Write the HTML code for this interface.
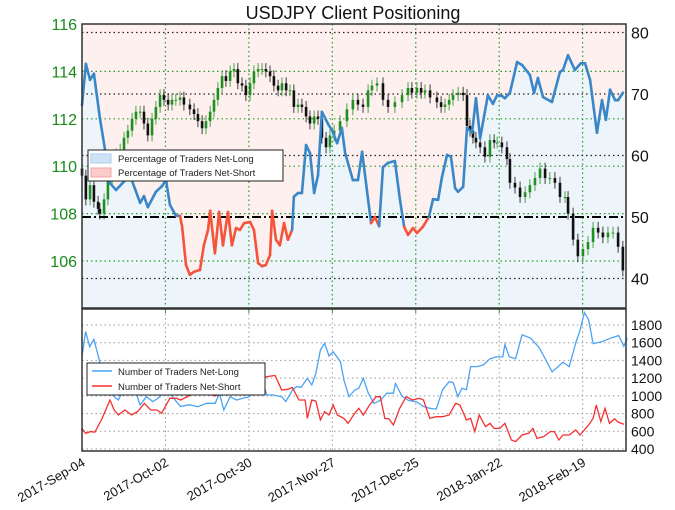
<!DOCTYPE html>
<html><head><meta charset="utf-8"><style>
body{margin:0;background:#fff;}
svg{display:block;font-family:"Liberation Sans","DejaVu Sans",sans-serif;}
</style></head><body>
<svg id="chart" width="675" height="510" viewBox="0 0 675 510">
<text x="353" y="19" font-size="18" text-anchor="middle" fill="#111">USDJPY Client Positioning</text>
<g id="topPanel"></g>
<g id="bottomPanel"></g>
</svg>
<script>
// ---- data ----
const dateLabels = ["2017-Sep-04","2017-Oct-02","2017-Oct-30","2017-Nov-27","2017-Dec-25","2018-Jan-22","2018-Feb-19"];
const dateTickDays = [0,28,56,84,112,140,168];
const priceTicks = [106,108,110,112,114,116];
const pctTicks = [40,50,60,70,80];
const countTicks = [400,600,800,1000,1200,1400,1600,1800];
const pctLong = [[0,68.2],[1.3,74.9],[2.7,72.3],[4,73.3],[6,66.1],[8,60.1],[9.4,55.5],[11.4,54.4],[13.4,55.4],[16.1,56.8],[19.5,52.3],[20.8,53.4],[22.1,51.6],[24.8,54.1],[26.8,55],[28.2,56],[29.5,52],[31.5,50.2],[32.9,50.2],[33.6,48.4],[34.9,42.2],[36.2,40.6],[37.6,41.1],[39.6,41.4],[40.9,45.4],[42.3,47.9],[43,51],[44.6,44.1],[46,50.8],[47.3,45.4],[49,50.8],[50.3,45.4],[51.7,48.2],[53,47.9],[54.4,49],[56.4,49.2],[57.7,47.9],[59.1,42.5],[60.4,42],[61.7,42.2],[63.1,43.8],[63.8,51],[65.1,46.3],[66.4,45.4],[67.8,49],[69.1,46.3],[70.5,47.9],[71.1,53.3],[72.5,53.9],[73.8,53.9],[75.2,61.7],[76.5,60.4],[77.9,53.9],[79.2,56.8],[80.5,67.1],[82.6,65.1],[83.9,64.1],[85.6,62],[87.2,64.5],[88.3,60.4],[90.9,56],[92.6,56],[94,60.6],[95.6,54.4],[97,49],[98.3,50],[99.7,48.5],[101,58.1],[102.7,58.8],[105,59.1],[106.7,52.8],[108.1,48.4],[109.4,47.1],[111.1,48.2],[112.4,47.4],[114.4,48.4],[116.4,50],[117.8,52.9],[119.5,52.8],[120.8,56.5],[122.5,60.1],[123.8,59.8],[125.2,54.7],[126.2,54.1],[127.9,54.9],[129.2,64.5],[130.9,63.7],[132.2,69.3],[133.6,62.8],[136.2,69.8],[137.9,68.4],[139.3,69.8],[140.9,69.7],[141.9,69.3],[143.6,70.2],[146,75.2],[147.7,74.7],[150.3,73.1],[151.7,70.2],[153,72.6],[154.7,69.5],[157.7,68.7],[160.4,73.6],[161.4,73.9],[163.1,76.3],[165.4,73.9],[167.4,75],[168.8,75],[170.5,72.3],[172.8,63.7],[174.5,69],[175.8,65.8],[177.2,70.7],[178.9,69],[179.9,69],[181.5,70.2]];
const priceClose = [[0,109.6],[1.3,108.6],[2.7,109.2],[4,108.5],[5.4,108.2],[6,108],[7.4,108.6],[8.7,109.4],[10.1,110],[11.4,110.5],[12.8,110.7],[14.1,111.2],[15.4,111.5],[16.8,112],[18.1,112.3],[19.5,112.3],[20.8,111.8],[22.1,111.3],[23.5,112],[24.8,112.5],[26.2,113],[27.5,112.8],[28.9,112.6],[30.2,112.8],[31.5,112.8],[32.9,112.9],[34.2,112.6],[36.2,112.4],[37.6,112.2],[38.9,111.9],[40.3,111.6],[41.6,111.9],[43,112.3],[44.3,112.8],[45.6,113.3],[47,113.8],[48.3,113.6],[49.7,114],[51,114.1],[52.3,113.5],[53.7,113.4],[55,113],[56.4,113.5],[57.7,114],[59.1,114.1],[60.4,114.1],[61.7,114],[63.1,113.8],[64.4,113.4],[65.8,113.2],[67.1,113.5],[68.5,113.2],[69.8,113.2],[71.1,112.5],[72.5,112.6],[73.8,112.5],[75.2,112.1],[76.5,111.8],[77.9,112.1],[79.2,112],[80.5,111.2],[81.9,110.8],[83.2,111.3],[84.6,111.5],[86.6,111.9],[88.9,112.4],[90.9,112.8],[92.6,112.6],[94.3,112.5],[96,113.2],[97.3,113.4],[99,113.5],[101,112.8],[102.7,112.5],[105,112.7],[107.4,113],[109.4,113.3],[110.7,113.1],[112.4,113.3],[113.8,113.1],[115.1,113.2],[116.8,112.9],[119.1,112.7],[120.5,112.5],[121.8,112.6],[123.2,112.8],[124.5,113],[126.2,113.1],[127.9,113],[129.2,111.7],[130.2,111.5],[131.2,111.2],[132.2,111],[133.6,110.8],[135.2,110.4],[136.9,111.1],[138.3,111],[139.3,111],[140.9,110.8],[142.6,110.3],[143.6,109.3],[145.3,109.1],[147,108.7],[148.7,108.9],[150.3,109.2],[152,109.5],[153.7,109.9],[155.4,109.5],[157,109.5],[158.7,109.3],[160.4,108.7],[162.1,108.7],[163.1,108],[164.8,106.9],[166.4,106.2],[168.1,106.5],[169.8,106.8],[171.5,107.4],[173.2,107.2],[174.8,107],[176.5,107.2],[178.2,107.2],[179.9,106.6],[181.5,105.6]];
const countLong = [[0,1442],[1.2,1725],[2.6,1555],[4,1638],[5.5,1442],[7.2,1217],[9.4,1050],[10.8,991],[12.2,953],[14.4,1104],[17.3,1123],[19.5,897],[21.6,991],[23.8,935],[26.2,991],[28.1,1100],[30.3,991],[33.1,880],[36,900],[38.9,878],[41.8,916],[44.7,916],[46.1,1028],[47.6,840],[49.7,991],[51.9,953],[54,972],[56.2,991],[58.4,1104],[60.5,1179],[62,1010],[64.1,1010],[67,991],[68.4,935],[70.6,1066],[72,1104],[73.5,1096],[75.6,1198],[77.1,1123],[78.5,1254],[80,1518],[81.4,1593],[82.9,1450],[84.3,1499],[86.7,1386],[87.9,1179],[89.6,991],[91.5,1066],[92.9,1085],[94.4,1198],[96.1,1028],[98,915],[100.1,950],[102.3,1030],[104.5,1030],[105.2,1140],[107.3,1000],[109.5,950],[112.4,930],[114.6,880],[116.7,860],[118.9,850],[121,1070],[123.2,1160],[124.6,1150],[126.1,990],[127.5,1085],[129,1070],[130.4,1330],[132.6,1330],[134.7,1350],[136.9,1420],[139,1440],[141.2,1440],[141.9,1580],[143.4,1440],[145.5,1420],[147.7,1690],[150.6,1650],[153.5,1540],[157.8,1270],[161.4,1380],[163.5,1330],[165.7,1600],[167.1,1740],[168.6,1940],[170,1860],[171.5,1590],[174.4,1610],[177.2,1650],[180.1,1680],[181.8,1560],[183,1650]];
const countShort = [[0,633],[1.2,577],[2.9,596],[4.3,590],[6.5,728],[9.4,953],[10.8,840],[12.2,784],[14.4,840],[16.6,784],[18.7,822],[20.9,916],[23.1,840],[25.2,840],[26.7,803],[29.5,972],[31.7,972],[33.1,953],[38.9,1050],[44.7,1000],[50.4,1080],[56.2,1120],[59.1,1180],[62,1217],[64.8,1230],[67,1066],[69.2,1075],[70.6,1096],[72.8,953],[74.9,953],[75.6,746],[77.1,953],[78.5,940],[80,728],[81.4,822],[82.9,784],[84.3,897],[85.7,784],[87.9,746],[89.3,690],[91.5,803],[92.9,860],[94.4,784],[96.5,897],[98.7,991],[100.1,991],[101.6,746],[103,740],[104.5,671],[106.6,860],[108.8,991],[110.9,953],[113.1,972],[114.6,953],[116.7,746],[118.9,765],[121,765],[123.2,784],[125.4,916],[126.8,897],[129,728],[130.4,746],[131.8,596],[133.3,784],[135.4,652],[136.9,690],[138.3,633],[140.2,633],[141.9,690],[144.1,502],[145.5,483],[147.7,558],[149.9,577],[151.3,633],[152.7,520],[154.9,540],[157.1,596],[158.5,596],[160,502],[161.4,558],[163.5,558],[165.7,615],[167.1,558],[170,671],[171.5,746],[172.6,897],[174.1,709],[175.5,860],[177,690],[178.7,740],[180.1,700],[181.8,680]];

// ---- axes ----
const X0=82, X1=626, T0=24, T1=308, B0=309, B1=451;
const xs = d => X0 + d*2.98;
const yPrice = p => 24 + (116-p)*23.7;
const yPct = p => 217 - (p-50)*6.15;
const yCnt = v => 325 + (1800-v)*124/1400;
const NS="http://www.w3.org/2000/svg";
function mk(parent, tag, attrs){const e=document.createElementNS(NS,tag);for(const k in attrs)e.setAttribute(k,attrs[k]);parent.appendChild(e);return e;}
const topG=document.getElementById('topPanel'), botG=document.getElementById('bottomPanel');

let bg=mk(topG,'rect',{x:X0,y:T0,width:X1-X0,height:T1-T0,fill:'#fdf0ee'});


const lastP=pctLong[pctLong.length-1];
let area='M'+xs(pctLong[0][0])+','+T1;
pctLong.forEach(p=>area+=' L'+xs(p[0]).toFixed(1)+','+yPct(p[1]).toFixed(1));
area+=' L'+X1+','+yPct(lastP[1])+' L'+X1+','+T1+' Z';
let ar=mk(topG,'path',{d:area,fill:'#edf4fa'});



dateTickDays.forEach(d=>{let l=mk(topG,'line',{x1:xs(d),x2:xs(d),y1:T0,y2:T1,stroke:'#2a9a2a','stroke-dasharray':'1.5,3','stroke-width':1.2});

});
priceTicks.forEach(p=>{if(p<116){let l=mk(topG,'line',{x1:X0,x2:X1,y1:yPrice(p),y2:yPrice(p),stroke:'#2a9a2a','stroke-dasharray':'1.5,3','stroke-width':1.2});

}
let t=mk(topG,'text',{x:77,y:yPrice(p)+6,'font-size':16,'text-anchor':'end',fill:'#1a8a1a'});t.textContent=p;

});
pctTicks.forEach(p=>{if(p!==50){let l=mk(topG,'line',{x1:X0,x2:X1,y1:yPct(p),y2:yPct(p),stroke:'#222','stroke-dasharray':'1.5,3','stroke-width':1.2});

}
let t=mk(topG,'text',{x:631,y:yPct(p)+6,'font-size':16,fill:'#111'});t.textContent=p;

});

priceClose.forEach((c,i)=>{const o=i>0?priceClose[i-1][1]:c[1]+0.3;const up=c[1]>=o;const col=up?'#1f8f1f':'#111';
const x=xs(c[0]);const hi=Math.max(o,c[1])+0.25, lo=Math.min(o,c[1])-0.25;
let w=mk(topG,'line',{x1:x,x2:x,y1:yPrice(hi),y2:yPrice(lo),stroke:col,'stroke-width':0.8});


let b=mk(topG,'rect',{x:x-1.3,y:yPrice(Math.max(o,c[1])),width:2.6,height:Math.max(1,Math.abs(yPrice(o)-yPrice(c[1]))),fill:col});

});

let fl=mk(topG,'line',{x1:X0,x2:X1,y1:yPct(50),y2:yPct(50),stroke:'#000','stroke-width':2,'stroke-dasharray':'9,3,2,3'});



for(let i=1;i<pctLong.length;i++){const a=pctLong[i-1],b=pctLong[i];const red=(a[1]+b[1])/2<49.8;
let s=mk(topG,'line',{x1:xs(a[0]),y1:yPct(a[1]),x2:xs(b[0]),y2:yPct(b[1]),stroke:red?'#f5533a':'#3a87c8','stroke-width':2.6,'stroke-linecap':'round'});

}

let f1=mk(topG,'rect',{x:X0,y:T0,width:X1-X0,height:T1-T0,fill:'none',stroke:'#333','stroke-width':1.5});



let lg=mk(topG,'g',{});


mk(lg,'rect',{x:88,y:150,width:195,height:31,fill:'#fff',stroke:'#222','stroke-width':1});
mk(lg,'rect',{x:91,y:154,width:20,height:9,fill:'#cfe3f7',stroke:'#a9cdee'});
mk(lg,'rect',{x:91,y:168,width:20,height:9,fill:'#fbcaca',stroke:'#f3a5a5'});
let lt1=mk(lg,'text',{x:118,y:162,'font-size':9.5,fill:'#222'});lt1.textContent='Percentage of Traders Net-Long';


let lt2=mk(lg,'text',{x:118,y:176,'font-size':9.5,fill:'#222'});lt2.textContent='Percentage of Traders Net-Short';



dateTickDays.forEach((d,i)=>{let l=mk(botG,'line',{x1:xs(d),x2:xs(d),y1:B0,y2:B1,stroke:'#999','stroke-dasharray':'1.5,3','stroke-width':1});


let tk=mk(botG,'line',{x1:xs(d),x2:xs(d),y1:B0,y2:B0+4,stroke:'#2a9a2a','stroke-width':1});


let t=mk(botG,'text',{x:xs(d)+4,y:465,'font-size':13,'text-anchor':'end',fill:'#111',transform:`rotate(-30 ${xs(d)+4} 465)`});t.textContent=dateLabels[i];

});
countTicks.forEach(v=>{let l=mk(botG,'line',{x1:X0,x2:X1,y1:yCnt(v),y2:yCnt(v),stroke:'#999','stroke-dasharray':'1.5,3','stroke-width':1});


let t=mk(botG,'text',{x:631,y:yCnt(v)+5,'font-size':14,fill:'#111'});t.textContent=v;

});
function drawLine(data,col,name){let p=mk(botG,'polyline',{points:data.map(q=>xs(q[0]).toFixed(1)+','+Math.max(B0,yCnt(q[1])).toFixed(1)).join(' '),fill:'none',stroke:col,'stroke-width':1.3});

}
drawLine(countLong,'#4aa3f5','net-long-count-line');
drawLine(countShort,'#f53030','net-short-count-line');
let f2=mk(botG,'rect',{x:X0,y:B0,width:X1-X0,height:B1-B0,fill:'none',stroke:'#333','stroke-width':1.5});


let lg2=mk(botG,'g',{});


mk(lg2,'rect',{x:87,y:363,width:178,height:32,fill:'#fff',stroke:'#222','stroke-width':1});
mk(lg2,'line',{x1:92,x2:112,y1:371,y2:371,stroke:'#4aa3f5','stroke-width':1.5});
mk(lg2,'line',{x1:92,x2:112,y1:386,y2:386,stroke:'#f53030','stroke-width':1.5});
let b1=mk(lg2,'text',{x:118,y:375,'font-size':9.5,fill:'#222'});b1.textContent='Number of Traders Net-Long';


let b2=mk(lg2,'text',{x:118,y:390,'font-size':9.5,fill:'#222'});b2.textContent='Number of Traders Net-Short';


</script>
</body></html>
